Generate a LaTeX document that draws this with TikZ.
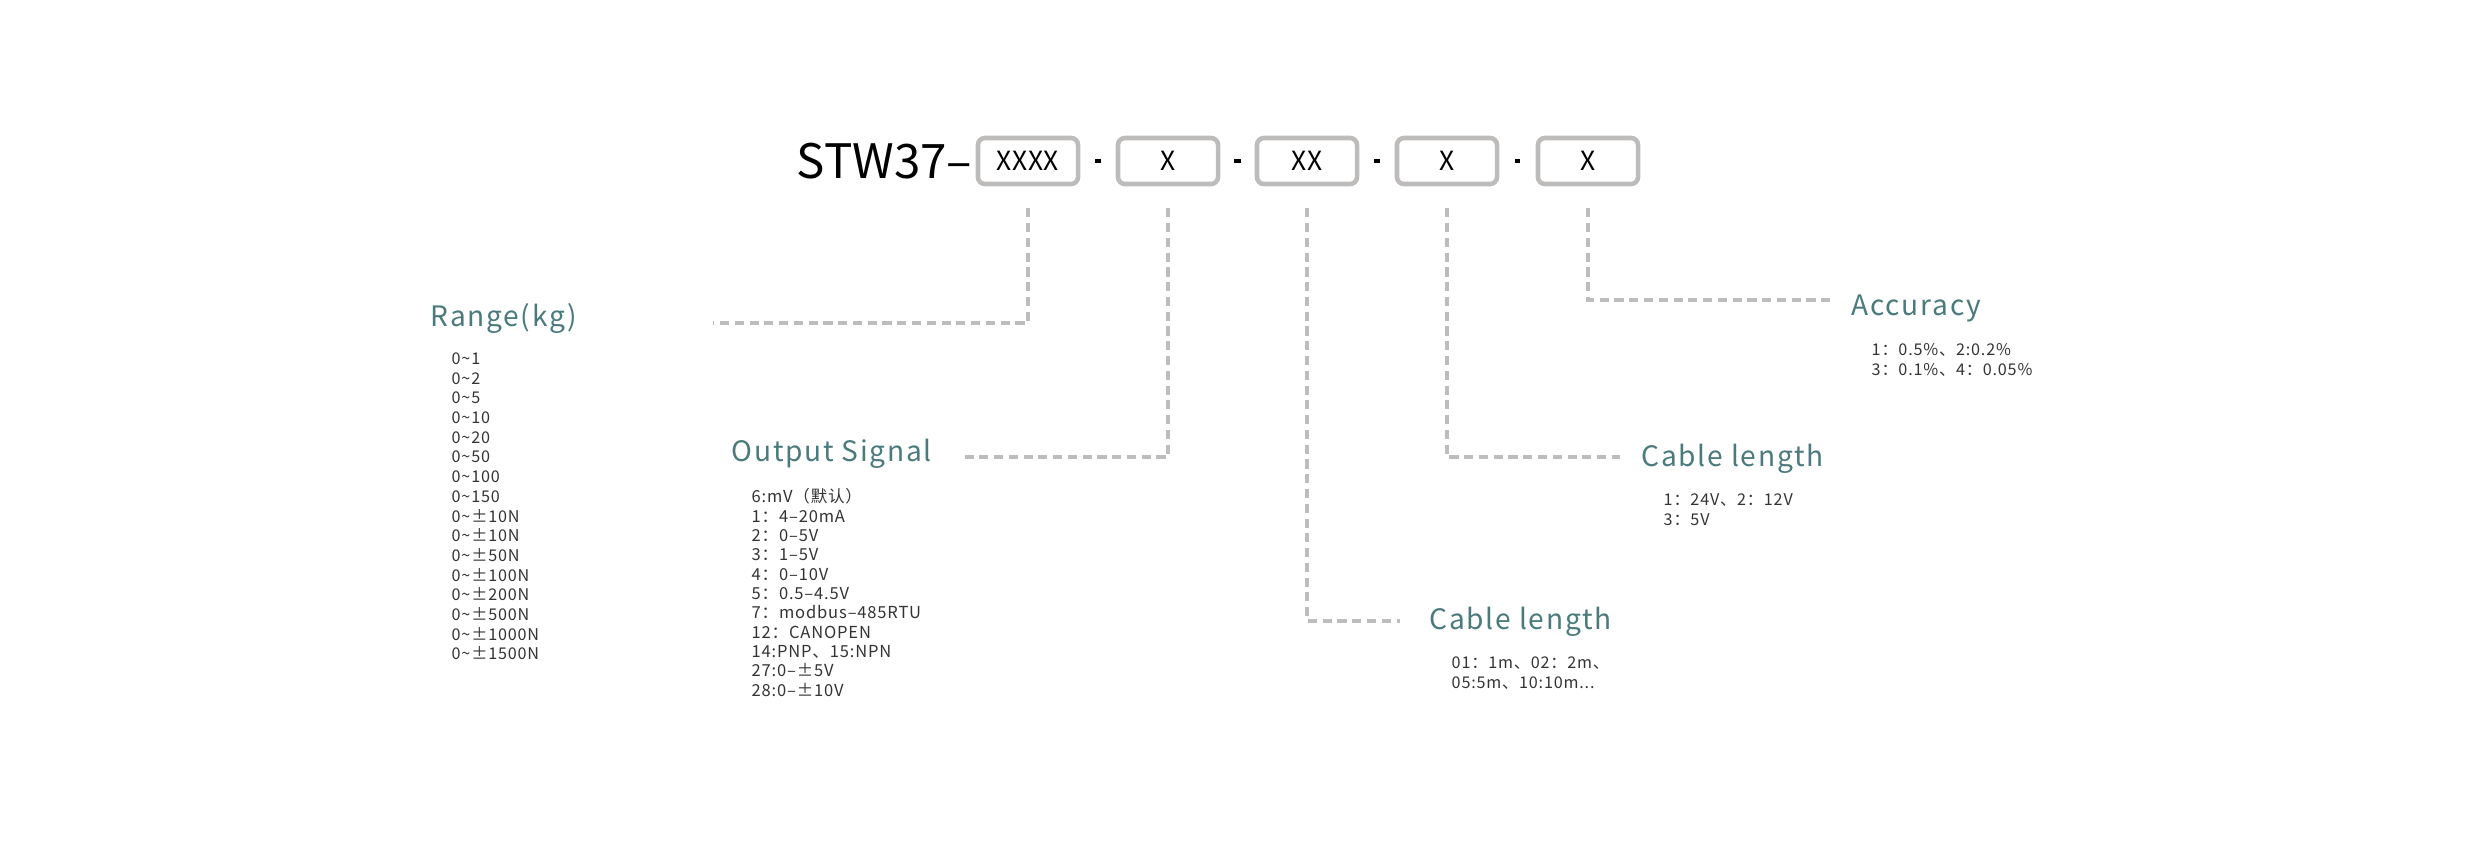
\documentclass[tikz,border=0pt]{standalone}
\usepackage{fontspec}
\setmainfont{Noto Sans CJK SC}
\usepackage{tikz}
\usetikzlibrary{positioning}
\definecolor{teal}{HTML}{4A7A7C}
\definecolor{txt}{HTML}{333333}
\definecolor{lead}{HTML}{BDBDBD}
\definecolor{frame}{HTML}{BEBCBA}
\newcommand{\tld}{\textasciitilde}
\tikzset{
  code/.style={draw=frame, line width=1.3pt, rounded corners=2pt, minimum width=1.0cm, minimum height=0.46cm, inner sep=0pt, font=\fontsize{7.5}{8}\selectfont\addfontfeature{LetterSpace=2}},
  sep/.style={line width=1.2pt, black, shorten <=6, shorten >=6},
  leader/.style={draw=lead, line width=0.9pt, dash pattern=on 2.6pt off 1.6pt},
  head/.style={anchor=west, inner sep=0pt, text=teal, font=\fontsize{8}{9}\selectfont\addfontfeature{LetterSpace=6}},
  items/.style={anchor=north west, inner sep=0pt, align=left, text=txt, font=\fontsize{4.6}{5.6}\selectfont\addfontfeature{LetterSpace=5}}
}
\begin{document}
\begin{tikzpicture}[x=0.01cm, y=-0.01cm]
    \useasboundingbox (0,0) rectangle (2481,859);

    % the code line
    \node[anchor=east, inner sep=0pt, font=\fontsize{13.5}{14}\selectfont] (model) at (973,161) {STW37–};
    \node[code] (b1) at (1028,161) {XXXX};
    \node[code] (b2) at (1168,161) {X};
    \node[code] (b3) at (1307,161) {XX};
    \node[code] (b4) at (1447,161) {X};
    \node[code] (b5) at (1588,161) {X};
    \foreach \a/\b in {b1/b2, b2/b3, b3/b4, b4/b5}
        \draw[sep] (\a.east) -- (\b.west);

    % ends of the leaders
    \coordinate (e1) at (713,323);
    \coordinate (e2) at (965,457);
    \coordinate (e3) at (1400,621);
    \coordinate (e4) at (1620,457);
    \coordinate (e5) at (1835,300);
    \foreach \n in {1,...,5}
        \draw[leader] ([yshift=-0.22cm]b\n.south) |- (e\n);

    % range
    \node[head] (range) at (430,318) {Range(kg)};
    \node[items] (rangelist) at (451,352) {0\tld1\\0\tld2\\0\tld5\\0\tld10\\0\tld20\\0\tld50\\0\tld100\\0\tld150\\
        0\tld±10N\\0\tld±10N\\0\tld±50N\\0\tld±100N\\0\tld±200N\\0\tld±500N\\0\tld±1000N\\0\tld±1500N};

    % output signal
    \node[head] (output) at (731,454) {Output Signal};
    \node[items, font=\fontsize{4.7}{5.5}\selectfont\addfontfeature{LetterSpace=5}] (outputlist) at (751,488) {6:mV（默认）\\1：4–20mA\\2：0–5V\\3：1–5V\\4：0–10V\\5：0.5–4.5V\\
        7：modbus–485RTU\\12：CANOPEN\\14:PNP、15:NPN\\27:0–±5V\\28:0–±10V};

    % cable length, lower
    \node[head] (cable) at (1429,622) {Cable length};
    \node[items] (cablelist) at (1451,656) {01：1m、02：2m、\\05:5m、10:10m...};

    % cable length, upper
    \node[head] (supply) at (1641,459) {Cable length};
    \node[items] (supplylist) at (1663,493) {1：24V、2：12V\\3：5V};

    % accuracy
    \node[head] (accuracy) at (1851,308) {Accuracy};
    \node[items] (accuracylist) at (1871,343) {1：0.5\%、2:0.2\%\\3：0.1\%、4：0.05\%};
\end{tikzpicture}
\end{document}
